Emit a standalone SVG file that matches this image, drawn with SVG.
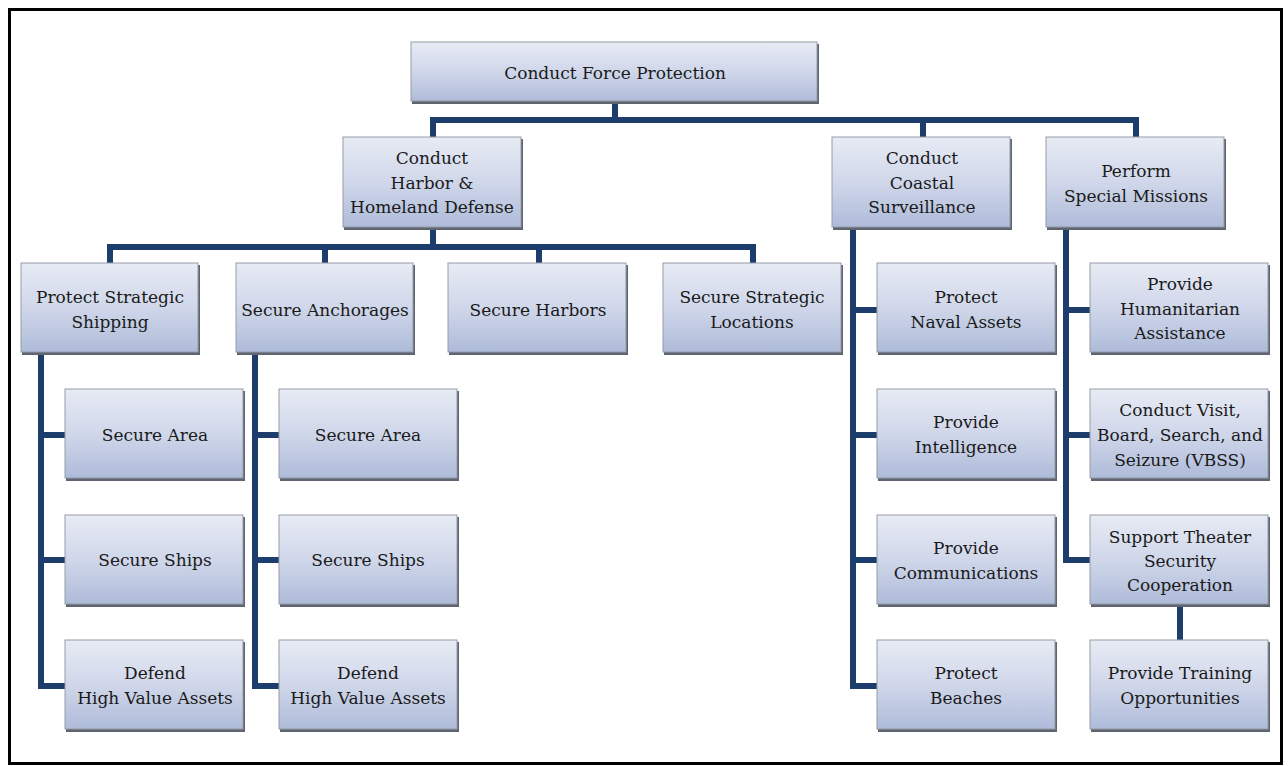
<svg xmlns="http://www.w3.org/2000/svg" width="1288" height="766" viewBox="0 0 1288 766">
<defs>
<linearGradient id="g" x1="0" y1="0" x2="0" y2="1">
<stop offset="0" stop-color="#e7ebf4"/>
<stop offset="0.5" stop-color="#d0d7ea"/>
<stop offset="1" stop-color="#aebbd9"/>
</linearGradient>
</defs>
<style>
.sh{fill:#5e6470;}
.bx{fill:url(#g);stroke:#959ba6;stroke-width:1;}
.t{font-family:"DejaVu Serif","Liberation Serif",serif;font-size:17px;fill:#1a1a1a;text-anchor:middle;}
.c{fill:none;stroke:#1d3e6c;stroke-width:6;stroke-linejoin:miter;stroke-linecap:butt;}
.frame{fill:#fff;stroke:#000;stroke-width:3;}
</style>
<rect x="0" y="0" width="1288" height="766" fill="#fff"/>
<rect class="frame" x="9.5" y="9.5" width="1272" height="754"/>
<g id="connectors">
<path class="c" d="M615,102 V120"/>
<path class="c" d="M433,137 V120 H1136 V137"/>
<path class="c" d="M923,120 V137"/>
<path class="c" d="M433,228 V247"/>
<path class="c" d="M110,263 V247 H753 V263"/>
<path class="c" d="M325,247 V263"/>
<path class="c" d="M539,247 V263"/>
<path class="c" d="M41,353 V686 H65"/>
<path class="c" d="M41,435 H65"/>
<path class="c" d="M41,560 H65"/>
<path class="c" d="M255,353 V686 H279"/>
<path class="c" d="M255,435 H279"/>
<path class="c" d="M255,560 H279"/>
<path class="c" d="M853,228 V686 H877"/>
<path class="c" d="M853,310 H877"/>
<path class="c" d="M853,435 H877"/>
<path class="c" d="M853,560 H877"/>
<path class="c" d="M1066,228 V560 H1090"/>
<path class="c" d="M1066,310 H1090"/>
<path class="c" d="M1066,435 H1090"/>
<path class="c" d="M1180,604 V640"/>
</g>
<g id="n-root"><rect class="sh" x="412" y="44" width="407" height="60"/><rect class="bx" x="411" y="42" width="406" height="59"/><text class="t" x="615" y="79">Conduct Force Protection</text></g>
<g id="n-harbor"><rect class="sh" x="344" y="139" width="179" height="91"/><rect class="bx" x="343" y="137" width="178" height="90"/><text class="t" x="432" y="164">Conduct</text><text class="t" x="432" y="189">Harbor &amp;</text><text class="t" x="432" y="213">Homeland Defense</text></g>
<g id="n-coastal"><rect class="sh" x="833" y="139" width="179" height="91"/><rect class="bx" x="832" y="137" width="178" height="90"/><text class="t" x="922" y="164">Conduct</text><text class="t" x="922" y="189">Coastal</text><text class="t" x="922" y="213">Surveillance</text></g>
<g id="n-special"><rect class="sh" x="1047" y="139" width="179" height="91"/><rect class="bx" x="1046" y="137" width="178" height="90"/><text class="t" x="1136" y="177">Perform</text><text class="t" x="1136" y="202">Special Missions</text></g>
<g id="n-shipping"><rect class="sh" x="22" y="265" width="178" height="90"/><rect class="bx" x="21" y="263" width="177" height="89"/><text class="t" x="110" y="303">Protect Strategic</text><text class="t" x="110" y="328">Shipping</text></g>
<g id="n-anchorages"><rect class="sh" x="237" y="265" width="178" height="90"/><rect class="bx" x="236" y="263" width="177" height="89"/><text class="t" x="325" y="316">Secure Anchorages</text></g>
<g id="n-harbors"><rect class="sh" x="449" y="265" width="179" height="90"/><rect class="bx" x="448" y="263" width="178" height="89"/><text class="t" x="538" y="316">Secure Harbors</text></g>
<g id="n-locations"><rect class="sh" x="664" y="265" width="179" height="90"/><rect class="bx" x="663" y="263" width="178" height="89"/><text class="t" x="752" y="303">Secure Strategic</text><text class="t" x="752" y="328">Locations</text></g>
<g id="n-ship-area"><rect class="sh" x="66" y="391" width="179" height="90"/><rect class="bx" x="65" y="389" width="178" height="89"/><text class="t" x="155" y="441">Secure Area</text></g>
<g id="n-ship-ships"><rect class="sh" x="66" y="517" width="179" height="90"/><rect class="bx" x="65" y="515" width="178" height="89"/><text class="t" x="155" y="566">Secure Ships</text></g>
<g id="n-ship-hva"><rect class="sh" x="66" y="642" width="179" height="90"/><rect class="bx" x="65" y="640" width="178" height="89"/><text class="t" x="155" y="679">Defend</text><text class="t" x="155" y="704">High Value Assets</text></g>
<g id="n-anch-area"><rect class="sh" x="280" y="391" width="179" height="90"/><rect class="bx" x="279" y="389" width="178" height="89"/><text class="t" x="368" y="441">Secure Area</text></g>
<g id="n-anch-ships"><rect class="sh" x="280" y="517" width="179" height="90"/><rect class="bx" x="279" y="515" width="178" height="89"/><text class="t" x="368" y="566">Secure Ships</text></g>
<g id="n-anch-hva"><rect class="sh" x="280" y="642" width="179" height="90"/><rect class="bx" x="279" y="640" width="178" height="89"/><text class="t" x="368" y="679">Defend</text><text class="t" x="368" y="704">High Value Assets</text></g>
<g id="n-naval"><rect class="sh" x="878" y="265" width="179" height="90"/><rect class="bx" x="877" y="263" width="178" height="89"/><text class="t" x="966" y="303">Protect</text><text class="t" x="966" y="328">Naval Assets</text></g>
<g id="n-intel"><rect class="sh" x="878" y="391" width="179" height="90"/><rect class="bx" x="877" y="389" width="178" height="89"/><text class="t" x="966" y="428">Provide</text><text class="t" x="966" y="453">Intelligence</text></g>
<g id="n-comms"><rect class="sh" x="878" y="517" width="179" height="90"/><rect class="bx" x="877" y="515" width="178" height="89"/><text class="t" x="966" y="554">Provide</text><text class="t" x="966" y="579">Communications</text></g>
<g id="n-beaches"><rect class="sh" x="878" y="642" width="179" height="90"/><rect class="bx" x="877" y="640" width="178" height="89"/><text class="t" x="966" y="679">Protect</text><text class="t" x="966" y="704">Beaches</text></g>
<g id="n-humanitarian"><rect class="sh" x="1091" y="265" width="179" height="90"/><rect class="bx" x="1090" y="263" width="178" height="89"/><text class="t" x="1180" y="290">Provide</text><text class="t" x="1180" y="315">Humanitarian</text><text class="t" x="1180" y="339">Assistance</text></g>
<g id="n-vbss"><rect class="sh" x="1091" y="391" width="179" height="90"/><rect class="bx" x="1090" y="389" width="178" height="89"/><text class="t" x="1180" y="416">Conduct Visit,</text><text class="t" x="1180" y="441">Board, Search, and</text><text class="t" x="1180" y="466">Seizure (VBSS)</text></g>
<g id="n-theater"><rect class="sh" x="1091" y="517" width="179" height="90"/><rect class="bx" x="1090" y="515" width="178" height="89"/><text class="t" x="1180" y="543">Support Theater</text><text class="t" x="1180" y="567">Security</text><text class="t" x="1180" y="591">Cooperation</text></g>
<g id="n-training"><rect class="sh" x="1091" y="642" width="179" height="90"/><rect class="bx" x="1090" y="640" width="178" height="89"/><text class="t" x="1180" y="679">Provide Training</text><text class="t" x="1180" y="704">Opportunities</text></g>
</svg>
